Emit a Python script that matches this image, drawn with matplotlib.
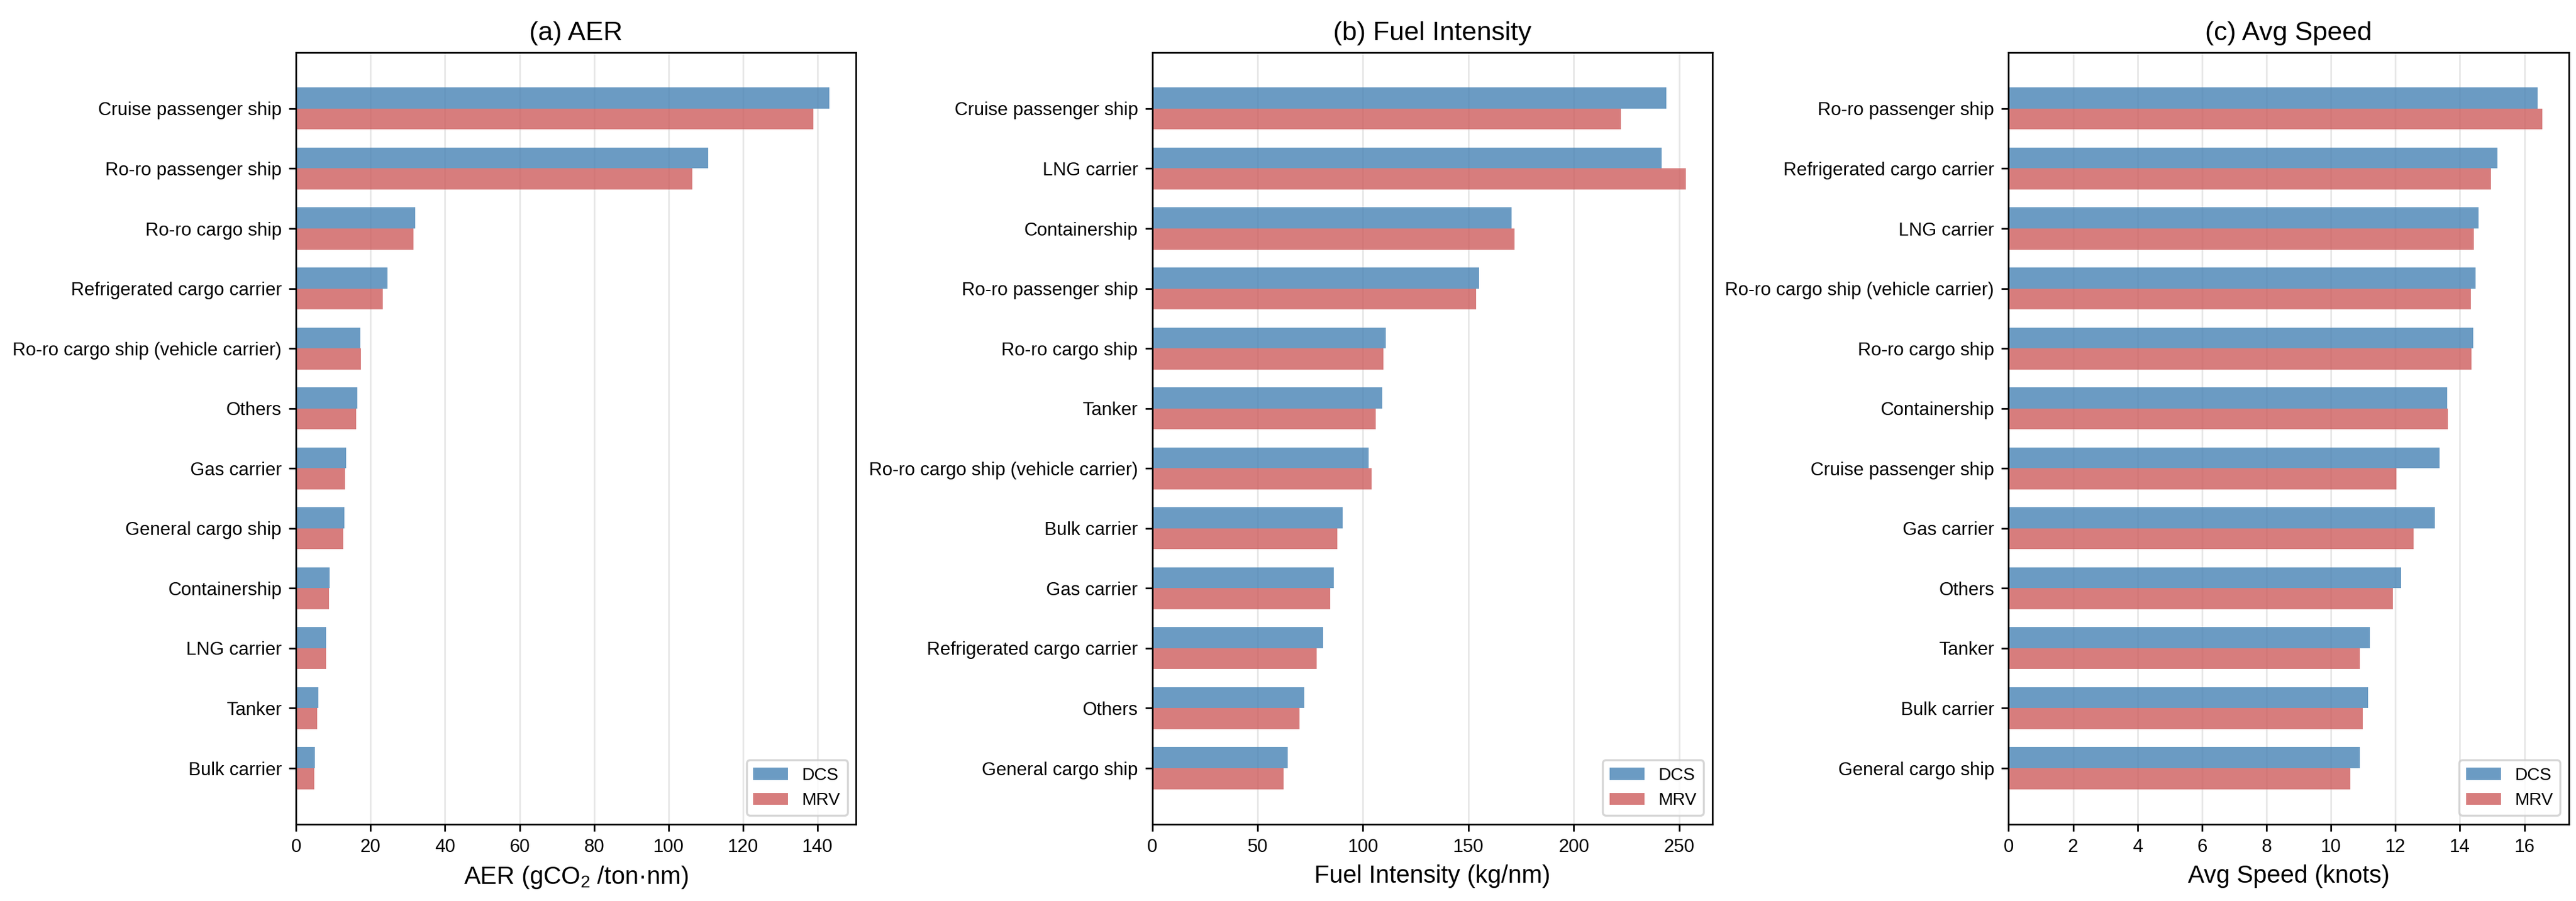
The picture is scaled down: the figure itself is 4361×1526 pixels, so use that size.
import numpy as np
import matplotlib
matplotlib.use("Agg")
import matplotlib.pyplot as plt

plt.rcParams['font.family'] = ['Liberation Sans', 'DejaVu Sans']
plt.rcParams['mathtext.fontset'] = 'custom'
plt.rcParams['mathtext.rm'] = 'Liberation Sans'
plt.rcParams['mathtext.it'] = 'Liberation Sans:italic'
plt.rcParams['mathtext.bf'] = 'Liberation Sans:bold'

# ---- data ----
aer_cats = ["Cruise passenger ship", "Ro-ro passenger ship", "Ro-ro cargo ship",
            "Refrigerated cargo carrier", "Ro-ro cargo ship (vehicle carrier)", "Others",
            "Gas carrier", "General cargo ship", "Containership", "LNG carrier",
            "Tanker", "Bulk carrier"]
aer_dcs = [143.2, 110.6, 32.0, 24.5, 17.2, 16.4, 13.5, 13.0, 9.0, 8.1, 6.0, 5.1]
aer_mrv = [138.9, 106.3, 31.5, 23.3, 17.5, 16.1, 13.2, 12.6, 8.9, 8.0, 5.7, 4.9]

fuel_cats = ["Cruise passenger ship", "LNG carrier", "Containership", "Ro-ro passenger ship",
             "Ro-ro cargo ship", "Tanker", "Ro-ro cargo ship (vehicle carrier)", "Bulk carrier",
             "Gas carrier", "Refrigerated cargo carrier", "Others", "General cargo ship"]
fuel_dcs = [243.9, 241.8, 170.5, 155.2, 110.9, 109.0, 102.7, 90.3, 86.1, 81.0, 72.1, 64.4]
fuel_mrv = [222.5, 253.2, 171.9, 153.6, 109.6, 105.9, 104.0, 87.9, 84.5, 78.1, 70.0, 62.3]

speed_cats = ["Ro-ro passenger ship", "Refrigerated cargo carrier", "LNG carrier",
              "Ro-ro cargo ship (vehicle carrier)", "Ro-ro cargo ship", "Containership",
              "Cruise passenger ship", "Gas carrier", "Others", "Tanker", "Bulk carrier",
              "General cargo ship"]
speed_dcs = [16.41, 15.17, 14.58, 14.48, 14.41, 13.60, 13.37, 13.22, 12.18, 11.21, 11.16, 10.89]
speed_mrv = [16.55, 14.96, 14.43, 14.34, 14.36, 13.63, 12.03, 12.56, 11.92, 10.90, 10.99, 10.61]

titles = ["(a) AER", "(b) Fuel Intensity", "(c) Avg Speed"]
xlabels = ["AER (gCO$_2$ /ton·nm)", "Fuel Intensity (kg/nm)", "Avg Speed (knots)"]
series_names = ["DCS", "MRV"]

panels = [(aer_cats, aer_dcs, aer_mrv),
          (fuel_cats, fuel_dcs, fuel_mrv),
          (speed_cats, speed_dcs, speed_mrv)]

DPI = 250
fig, axes = plt.subplots(1, 3, figsize=(4361 / DPI, 1526 / DPI), dpi=DPI)
fig.subplots_adjust(left=0.1149, right=0.9972, top=0.9417, bottom=0.0852, wspace=0.5285)

h = 0.35
for ax, (cats, dcs, mrv), title, xl in zip(axes, panels, titles, xlabels):
    y = np.arange(len(cats))
    ax.barh(y - h / 2, dcs, h, color="steelblue", alpha=0.8, label=series_names[0])
    ax.barh(y + h / 2, mrv, h, color="indianred", alpha=0.8, label=series_names[1])
    ax.set_yticks(y)
    ax.set_yticklabels(cats, fontsize=9)
    ax.invert_yaxis()
    ax.tick_params(axis='x', labelsize=9)
    ax.set_title(title, fontsize=13)
    ax.set_xlabel(xl, fontsize=12)
    ax.grid(axis='x', alpha=0.3)
    ax.set_axisbelow(True)
    ax.legend(loc="lower right", fontsize=8.5)

fig.savefig("out.png", dpi=DPI)
